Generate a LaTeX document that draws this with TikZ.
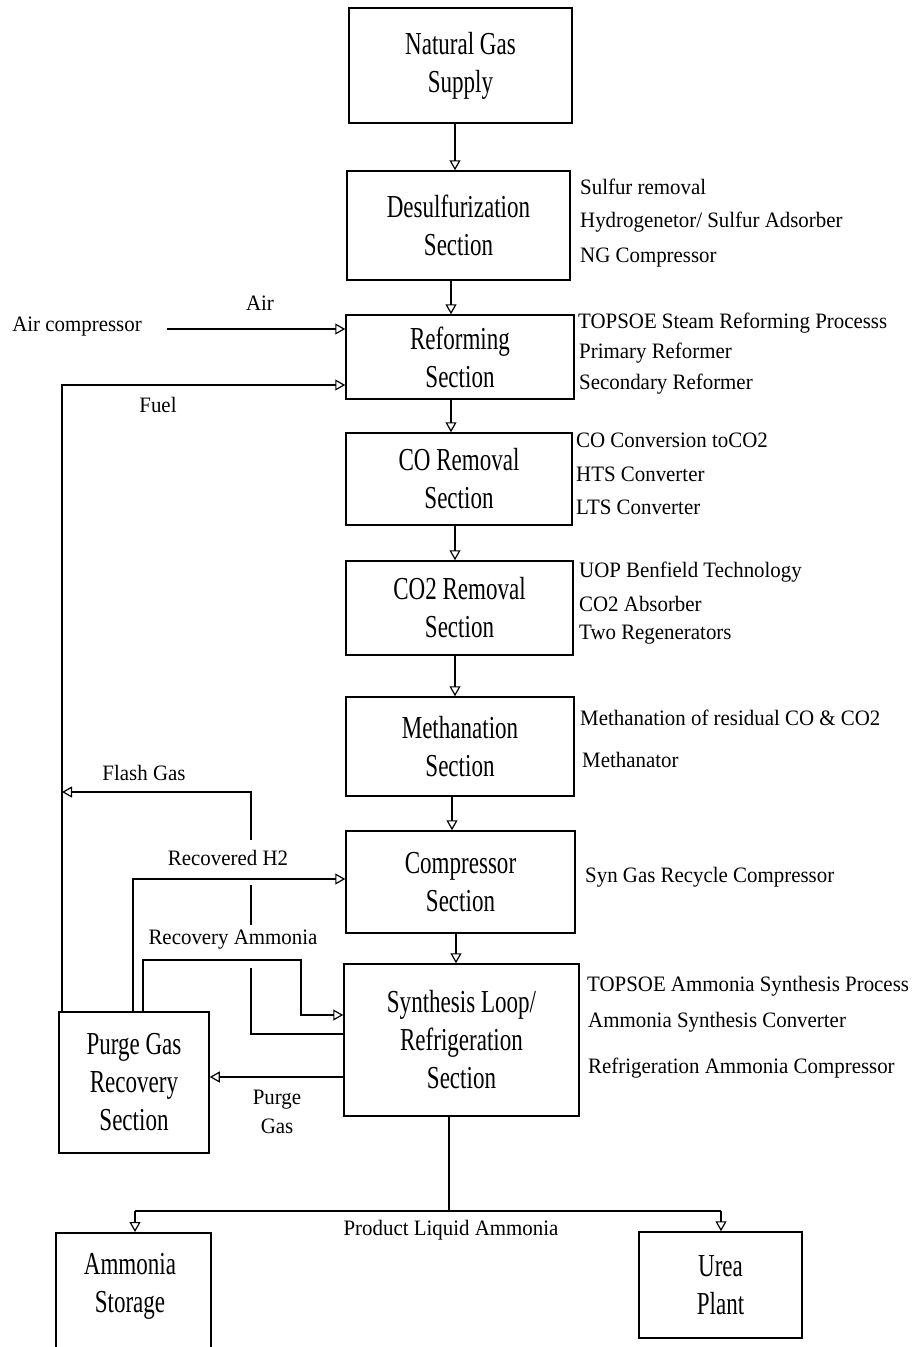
\documentclass[tikz,border=0pt]{standalone}
\usepackage{fontspec}
\setmainfont{Liberation Serif}
\newfontfamily\boxfont{Liberation Serif}[FakeStretch=0.72]
\newfontfamily\labfont{Liberation Serif}[FakeStretch=0.95]
\usetikzlibrary{arrows.meta}
\begin{document}
\begin{tikzpicture}[x=1pt,y=-1pt,
  box/.style={draw, line width=1.5pt, align=center, inner sep=0pt,
    font=\boxfont\fontsize{32}{38}\selectfont},
  boxtext/.style={align=center, inner sep=0pt, font=\boxfont\fontsize{32}{38}\selectfont},
  lab/.style={inner sep=0pt, align=center, font=\labfont\fontsize{22}{29}\selectfont},
  side/.style={lab, anchor=west},
  conn/.style={line width=1.5pt},
  arr/.style={conn, -{Triangle[open, length=10pt, width=11pt, line width=1.2pt]}}]
\clip (0,0) rectangle (915,1347);
\fill[white] (0,0) rectangle (915,1347);

% boxes
\node[box, minimum width=223pt, minimum height=115pt] (ng) at (460.5,65.5) {Natural Gas\\Supply};
\node[box, minimum width=223pt, minimum height=109pt] (ds) at (458.5,225.5) {Desulfurization\\Section};
\node[box, minimum width=228pt, minimum height=84pt] (rf) at (460,357) {Reforming\\Section};
\node[box, minimum width=226pt, minimum height=92pt] (co) at (459,479) {CO Removal\\Section};
\node[box, minimum width=227pt, minimum height=94pt] (co2) at (459.5,608) {CO2 Removal\\Section};
\node[box, minimum width=228pt, minimum height=99pt] (me) at (460,746.5) {Methanation\\Section};
\node[box, minimum width=229pt, minimum height=102pt] (cp) at (460.5,882) {Compressor\\Section};
\node[box, minimum width=235pt, minimum height=152pt] (sy) at (461.5,1040) {Synthesis Loop/\\Refrigeration\\Section};
\node[box, minimum width=150pt, minimum height=141pt] (pg) at (134,1082.5) {Purge Gas\\Recovery\\Section};
\node[box, minimum width=155pt, minimum height=140pt, anchor=north] (as) at (133.5,1232) {};
\node[boxtext] (astext) at (130,1286) {Ammonia\\Storage};
\node[box, minimum width=163pt, minimum height=106pt] (up) at (720.5,1285) {Urea\\Plant};

% side texts
\node[side] (s1a) at (580,187) {Sulfur removal};
\node[side] (s1b) at (580,222) {Hydrogenetor/ Sulfur Adsorber};
\node[side] (s1c) at (580,258) {NG Compressor};
\node[side] (s2a) at (578,323) {TOPSOE Steam Reforming Processs};
\node[side] (s2b) at (579,353) {Primary Reformer};
\node[side] (s2c) at (579,384) {Secondary Reformer};
\node[side] (s3a) at (576,440) {CO Conversion toCO2};
\node[side] (s3b) at (576,474) {HTS Converter};
\node[side] (s3c) at (576,507) {LTS Converter};
\node[side] (s4a) at (579,572) {UOP Benfield Technology};
\node[side] (s4b) at (579,604) {CO2 Absorber};
\node[side] (s4c) at (579,635) {Two Regenerators};
\node[side] (s5a) at (580,718) {Methanation of residual CO \& CO2};
\node[side] (s5b) at (582,760) {Methanator};
\node[side] (s6a) at (585,877) {Syn Gas Recycle Compressor};
\node[side] (s7a) at (587,986) {TOPSOE Ammonia Synthesis Process};
\node[side] (s7b) at (588,1022) {Ammonia Synthesis Converter};
\node[side] (s7c) at (588,1068) {Refrigeration Ammonia Compressor};

% labels
\node[lab] (aircomp) at (77,327) {Air compressor};
\node[lab] (airl) at (260,303) {Air};
\node[lab] (fuell) at (158,405) {Fuel};
\node[lab] (flashl) at (144,773) {Flash Gas};
\node[lab] (h2l) at (228,858) {Recovered H2};
\node[lab] (nh3l) at (233,940) {Recovery Ammonia};
\node[lab] (purgel) at (277,1112) {Purge\\Gas};
\node[lab] (prodl) at (451,1230) {Product Liquid Ammonia};

% main chain
\coordinate (c1) at (455,0);
\coordinate (c2) at (451,0);
\coordinate (c3) at (451,0);
\coordinate (c4) at (455,0);
\coordinate (c5) at (455,0);
\coordinate (c6) at (452,0);
\coordinate (c7) at (456,0);
\draw[arr] (ng.south -| c1) -- (ds.north -| c1);
\draw[arr] (ds.south -| c2) -- (rf.north -| c2);
\draw[arr] (rf.south -| c3) -- (co.north -| c3);
\draw[arr] (co.south -| c4) -- (co2.north -| c4);
\draw[arr] (co2.south -| c5) -- (me.north -| c5);
\draw[arr] (me.south -| c6) -- (cp.north -| c6);
\draw[arr] (cp.south -| c7) -- (sy.north -| c7);

% air
\coordinate (airstart) at (167,329);
\draw[arr] (airstart) -- (airstart -| rf.west);

% fuel line
\coordinate (fuelc) at (62,385);
\draw[arr] (pg.north -| fuelc) -- (fuelc) -- (fuelc -| rf.west);

% flash gas
\coordinate (f1) at (251,1034);
\coordinate (f2) at (251,792);
\coordinate (g1) at (251,968);
\coordinate (g2) at (251,925);
\coordinate (g3) at (251,885);
\coordinate (g4) at (251,840);
\draw[conn] (sy.west |- f1) -- (f1) -- (g1);
\draw[conn] (g2) -- (g3);
\draw[arr] (g4) -- (f2) -- (f2 -| fuelc);

% recovered H2
\coordinate (h2c) at (133,879);
\draw[arr] (pg.north -| h2c) -- (h2c) -- (h2c -| cp.west);

% recovery ammonia
\coordinate (n1) at (143,960);
\coordinate (n2) at (301,1015);
\draw[arr] (pg.north -| n1) -- (n1) -- (n1 -| n2) -- (n2) -- (n2 -| sy.west);

% purge gas
\coordinate (pgy) at (0,1077);
\draw[arr] (sy.west |- pgy) -- (pgy -| pg.east);

% product
\coordinate (b0) at (449,1211);
\coordinate (bl) at (135,1211);
\coordinate (br) at (721,1211);
\draw[conn] (sy.south -| b0) -- (b0);
\draw[conn] (bl) -- (br);
\draw[arr] (bl) -- (bl |- as.north);
\draw[arr] (br) -- (br |- up.north);
\end{tikzpicture}
\end{document}
